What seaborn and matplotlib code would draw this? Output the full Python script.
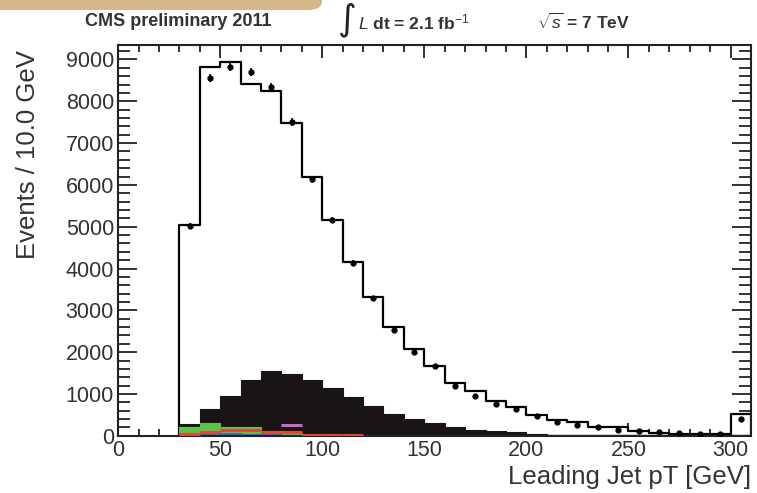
#!/usr/bin/env python3
"""
Leading jet pT distribution (CMS preliminary 2011 style): data points
over the stacked MC histograms, redrawn with seaborn/matplotlib.
"""

import matplotlib
matplotlib.use("Agg")
import matplotlib.pyplot as plt
from matplotlib.patches import FancyBboxPatch
import numpy as np
import seaborn as sns

# --------------------------------------------------------------------------- #
# Dados (bins de 10 GeV, 30 -> 310, último bin = overflow)
# --------------------------------------------------------------------------- #
bin_edges = [30, 40, 50, 60, 70, 80, 90, 100, 110, 120, 130, 140, 150, 160,
             170, 180, 190, 200, 210, 220, 230, 240, 250, 260, 270, 280, 290,
             300, 310]
bin_centers = [35, 45, 55, 65, 75, 85, 95, 105, 115, 125, 135, 145, 155, 165,
               175, 185, 195, 205, 215, 225, 235, 245, 255, 265, 275, 285, 295,
               305]

mc_total = [5050, 8820, 8940, 8410, 8250, 7470, 6180, 5170, 4160, 3320, 2600,
            2080, 1660, 1260, 1080, 825, 680, 505, 377, 320, 216, 200, 120, 70,
            50, 45, 35, 520]
mc_black = [280, 640, 960, 1340, 1550, 1480, 1340, 1150, 940, 720, 520, 400,
            300, 200, 145, 120, 80, 40, 30, 25, 20, 15, 10, 8, 6, 5, 4, 10]
mc_green = [210, 300, 220, 200, 120, 60, 20, 0, 0, 0, 0, 0, 0, 0, 0, 0, 0, 0,
            0, 0, 0, 0, 0, 0, 0, 0, 0, 0]
mc_blue = [30, 90, 60, 40, 60, 0, 0, 0, 0, 0, 0, 0, 0, 0, 0, 0, 0, 0, 0, 0, 0,
           0, 0, 0, 0, 0, 0, 0]
mc_red = [40, 100, 130, 150, 100, 80, 30, 30, 30, 0, 0, 0, 0, 0, 0, 0, 0, 0,
          0, 0, 0, 0, 0, 0, 0, 0, 0, 0]
mc_magenta = [0, 0, 0, 0, 0, 260, 0, 0, 0, 0, 0, 0, 0, 0, 0, 0, 0, 0, 0, 0, 0,
              0, 0, 0, 0, 0, 0, 0]

data_counts = [5020, 8550, 8815, 8695, 8335, 7507, 6130, 5150, 4130, 3290,
               2520, 2000, 1660, 1200, 960, 760, 640, 480, 320, 265, 200, 137,
               110, 100, 60, 50, 40, 410]
data_errors = [71, 92, 94, 93, 91, 87, 78, 72, 64, 57, 50, 45, 41, 35, 31, 28,
               25, 22, 18, 16, 14, 12, 10, 10, 8, 7, 6, 20]

x_ticks = [0, 50, 100, 150, 200, 250, 300]
y_ticks = [0, 1000, 2000, 3000, 4000, 5000, 6000, 7000, 8000, 9000]

# --------------------------------------------------------------------------- #
# Figura
# --------------------------------------------------------------------------- #
sns.set_theme(style="ticks")
plt.rcParams["font.family"] = ["Liberation Sans", "DejaVu Sans"]
plt.rcParams["mathtext.fontset"] = "custom"
plt.rcParams["mathtext.rm"] = "Liberation Sans"
plt.rcParams["mathtext.it"] = "Liberation Sans:italic"

fig = plt.figure(figsize=(7.57, 4.93), dpi=100)
ax = fig.add_axes([0.156, 0.116, 0.836, 0.793])


def hist(values, **kw):
    sns.histplot(x=bin_centers, weights=values, bins=bin_edges,
                 element="step", ax=ax, **kw)


def bin_tops(values, color):
    # só os segmentos horizontais (como no ROOT quando a linha cai sobre o preto)
    lo = [e for e, v in zip(bin_edges[:-1], values) if v > 0]
    hi = [e for e, v in zip(bin_edges[1:], values) if v > 0]
    yv = [v for v in values if v > 0]
    ax.hlines(yv, lo, hi, colors=color, linewidth=2.2, zorder=4)


# total MC: contorno preto, preenchido de branco
hist(mc_total, fill=True, color="white", edgecolor="black", linewidth=1.6,
     alpha=1)
# componente principal (preto)
hist(mc_black, fill=True, color="#1a1414", edgecolor="#1a1414", linewidth=0.8,
     alpha=1)
# componentes pequenas coloridas
hist(mc_green, fill=True, color="#5ec24a", edgecolor="#5ec24a", linewidth=0.8,
     alpha=1)
hist(mc_blue, fill=True, color="#3a64c8", edgecolor="#3a64c8", linewidth=0.8,
     alpha=1)
bin_tops(mc_red, "#d9483b")
bin_tops(mc_magenta, "#c76ad0")

# dados
ax.errorbar(bin_centers, data_counts, yerr=data_errors, fmt="o",
            color="black", markersize=3.5, elinewidth=1.2, capsize=0,
            zorder=5)

ax.set_xlim(0, 310)
ax.set_ylim(0, 9350)
ax.set_xticks(x_ticks)
ax.set_yticks(y_ticks)
ax.set_xticks(np.arange(0, 311, 10), minor=True)
ax.set_yticks(np.arange(0, 9351, 200), minor=True)
ax.set_xlabel("")
ax.set_ylabel("")

ax.tick_params(axis="both", which="both", direction="in", top=True,
               right=True, labelsize=15.5, width=1.3, color="#222222")
ax.tick_params(axis="y", which="major", length=14, pad=3)
ax.tick_params(axis="y", which="minor", length=8.5)
ax.tick_params(axis="x", which="major", length=9.5, pad=3)
ax.tick_params(axis="x", which="minor", length=5)
for sp in ax.spines.values():
    sp.set_linewidth(1.5)
    sp.set_color("#222222")

for lbl in ax.get_xticklabels() + ax.get_yticklabels():
    lbl.set_color("#333333")

# títulos dos eixos (estilo ROOT)
fig.text(28 / 757, 1 - 50 / 493, "Events / 10.0 GeV", rotation=90,
         ha="center", va="top", fontsize=18.5, color="#333333")
fig.text(751 / 757, 1 - 477 / 493, "Leading Jet pT [GeV]", ha="right",
         va="center", fontsize=18.5, color="#333333")

# faixa superior e cabeçalho
banner = FancyBboxPatch((-0.05, 1 - 10 / 493), 0.05 + 322 / 757, 0.2,
                        boxstyle="round,pad=0,rounding_size=0.018",
                        transform=fig.transFigure, facecolor="#d8b68c",
                        edgecolor="none", zorder=0)
fig.patches.append(banner)

y_hdr = 1 - 22 / 493
fig.text(178 / 757, y_hdr, "CMS preliminary 2011", ha="center", va="center",
         fontsize=13, fontweight="bold", color="#333333")
fig.text(347 / 757, 1 - 20 / 493, "\u222b", ha="center", va="center",
         fontsize=26, family=["DejaVu Sans"], color="#222222")
fig.text(358 / 757, y_hdr, r"$L$ dt = 2.1 fb$^{-1}$", ha="left",
         va="center", fontsize=12.5, fontweight="bold", color="#333333")
fig.text(537 / 757, y_hdr, r"$\sqrt{s}$ = 7 TeV", ha="left", va="center",
         fontsize=12.5, fontweight="bold", color="#333333")

fig.savefig("out.png", dpi=100)
plt.close(fig)
